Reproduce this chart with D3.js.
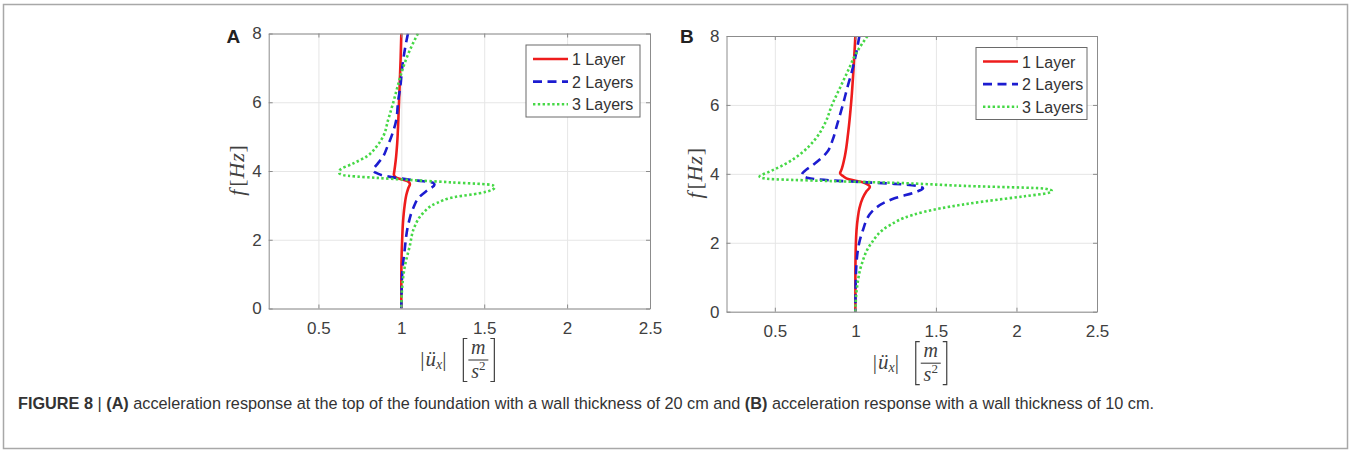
<!DOCTYPE html>
<html>
<head>
<meta charset="utf-8">
<script src="https://cdn.jsdelivr.net/npm/d3@7/dist/d3.min.js"></script>
<style>
  html, body { margin: 0; padding: 0; background: #fff; }
  svg { display: block; }
</style>
</head>
<body>
<svg id="chart" width="1351" height="453"></svg>
<script>
// tick values
const freqTicks = [0, 2, 4, 6, 8];
const accTicks = [0.5, 1, 1.5, 2, 2.5];
const seriesNames = ["1 Layer", "2 Layers", "3 Layers"];

// panel A (wall 20 cm): [f in Hz, |u_x| in m/s^2]
const a1Layer = [[0,1.0],[1,1.0],[2,1.005],[2.5,1.01],[3,1.02],[3.3,1.03],[3.5,1.042],[3.62,1.052],[3.7,1.04],
  [3.76,1.0],[3.82,0.965],[3.9,0.955],[4.0,0.958],[4.3,0.966],[4.8,0.975],[5.5,0.982],[6.5,0.99],[7.3,0.996],[8,1.0]];
const a2Layers = [[0,1.0],[1,1.005],[1.7,1.02],[2.4,1.04],[2.9,1.07],[3.25,1.11],[3.45,1.16],[3.6,1.2],[3.66,1.19],
  [3.72,1.1],[3.78,1.0],[3.86,0.9],[3.95,0.845],[4.03,0.83],[4.2,0.855],[4.42,0.89],[4.7,0.915],[5.0,0.94],
  [5.5,0.97],[6,0.98],[6.5,0.995],[7,1.005],[7.5,1.02],[8,1.04]];
const a3Layers = [[0,1.0],[0.6,1.005],[1.2,1.02],[1.8,1.05],[2.38,1.08],[2.77,1.13],[3.06,1.21],[3.25,1.33],
  [3.35,1.47],[3.45,1.545],[3.52,1.563],[3.59,1.55],[3.67,1.3],[3.74,1.05],[3.8,0.85],[3.88,0.65],[3.95,0.625],
  [4.03,0.63],[4.22,0.71],[4.42,0.79],[4.71,0.85],[5.0,0.89],[5.48,0.92],[5.97,0.95],[6.5,0.98],[7,1.01],
  [7.5,1.05],[8,1.1]];

// panel B (wall 10 cm)
const b1Layer = [[0,1.0],[1,1.0],[1.96,1.003],[2.72,1.015],[3.0,1.025],[3.29,1.045],[3.5,1.07],[3.62,1.09],
  [3.68,1.08],[3.76,1.04],[3.84,0.96],[3.93,0.925],[4.02,0.905],[4.1,0.912],[4.52,0.935],[5.18,0.955],
  [6.13,0.975],[7,0.988],[8,1.0]];
const b2Layers = [[0,1.0],[1,1.003],[1.77,1.015],[2.34,1.045],[2.91,1.104],[3.29,1.243],[3.48,1.38],[3.58,1.42],
  [3.65,1.38],[3.71,1.243],[3.76,1.045],[3.81,0.846],[3.88,0.708],[3.98,0.668],[4.1,0.69],[4.26,0.737],
  [4.64,0.826],[5.0,0.86],[5.4,0.885],[6.05,0.925],[6.5,0.95],[7,0.98],[7.5,1.005],[8,1.025]];
const b3Layers = [[0,1.0],[0.7,1.01],[1.39,1.04],[1.96,1.095],[2.5,1.21],[2.8,1.35],[3.0,1.53],[3.2,1.8],
  [3.35,2.05],[3.45,2.2],[3.5,2.22],[3.57,2.18],[3.65,1.68],[3.74,1.24],[3.79,0.85],[3.86,0.45],[3.92,0.405],
  [3.97,0.42],[4.05,0.46],[4.3,0.57],[4.6,0.665],[5.0,0.75],[5.5,0.815],[6,0.855],[6.5,0.905],[7,0.955],
  [7.5,1.005],[8,1.075]];

const styles = [
  {color: "#ee1c1c", dash: null},
  {color: "#1c1cd0", dash: "9,5.5"},
  {color: "#46d846", dash: "2.4,2.4"}
];

const svg = d3.select("#chart");
const axisGrey = "#8c8c8c";
const labelGrey = "#404040";

// outer frame of the figure
svg.append("rect")
  .attr("x", 3.5).attr("y", 4.5).attr("width", 1344).attr("height", 444)
  .attr("fill", "none").attr("stroke", "#a8a8a8").attr("stroke-width", 1.5);

function drawPanel(opt) {
  const x = d3.scaleLinear().domain([0.2, 2.5]).range([opt.left, opt.right]);
  const y = d3.scaleLinear().domain([0, 8]).range([opt.bottom, opt.top]);
  const w = opt.right - opt.left, h = opt.bottom - opt.top;
  const g = svg.append("g");

  // grid
  g.append("g").attr("transform", `translate(0,${opt.bottom})`)
    .call(d3.axisBottom(x).tickValues(accTicks).tickSize(-h).tickFormat(""))
    .call(s => s.select(".domain").remove())
    .call(s => s.selectAll("line").attr("stroke", "#e6e6e6"));
  g.append("g").attr("transform", `translate(${opt.left},0)`)
    .call(d3.axisLeft(y).tickValues(freqTicks).tickSize(-w).tickFormat(""))
    .call(s => s.select(".domain").remove())
    .call(s => s.selectAll("line").attr("stroke", "#e6e6e6"));

  // curves
  const clipId = "clip" + opt.name;
  svg.append("clipPath").attr("id", clipId).append("rect")
    .attr("x", opt.left).attr("y", opt.top).attr("width", w).attr("height", h);
  const line = d3.line().x(d => x(d[1])).y(d => y(d[0])).curve(d3.curveMonotoneY);
  opt.series.forEach((data, i) => {
    g.append("path")
      .datum(data.slice().reverse())
      .attr("clip-path", `url(#${clipId})`)
      .attr("d", line)
      .attr("fill", "none")
      .attr("stroke", styles[i].color)
      .attr("stroke-width", 2.6)
      .attr("stroke-dasharray", styles[i].dash);
  });

  // axes
  const fmt = d => String(d);
  const bottomAx = g.append("g").attr("transform", `translate(0,${opt.bottom})`)
    .call(d3.axisBottom(x).tickValues(accTicks).tickFormat(fmt).tickSizeInner(-4).tickSizeOuter(0).tickPadding(13));
  const leftAx = g.append("g").attr("transform", `translate(${opt.left},0)`)
    .call(d3.axisLeft(y).tickValues(freqTicks).tickFormat(fmt).tickSizeInner(-4).tickSizeOuter(0).tickPadding(7));
  const topAx = g.append("g").attr("transform", `translate(0,${opt.top})`)
    .call(d3.axisTop(x).tickValues(accTicks).tickFormat("").tickSizeInner(-4).tickSizeOuter(0));
  const rightAx = g.append("g").attr("transform", `translate(${opt.right},0)`)
    .call(d3.axisRight(y).tickValues(freqTicks).tickFormat("").tickSizeInner(-4).tickSizeOuter(0));
  [bottomAx, leftAx, topAx, rightAx].forEach(a => {
    a.select(".domain").attr("stroke", axisGrey);
    a.selectAll(".tick line").attr("stroke", axisGrey);
    a.selectAll(".tick text").attr("fill", labelGrey)
      .attr("font-family", "'Liberation Sans', Arial, sans-serif").attr("font-size", 17);
  });

  // panel letter
  g.append("text").attr("x", opt.letterX).attr("y", 42.5)
    .attr("font-family", "'Liberation Sans', Arial, sans-serif").attr("font-weight", "bold")
    .attr("font-size", 19).attr("fill", "#222").text(opt.name);

  // y label f[Hz]
  const yl = g.append("text")
    .attr("transform", `translate(${opt.left - 25},${(opt.top + opt.bottom) / 2 - 1}) rotate(-90)`)
    .attr("text-anchor", "middle")
    .attr("font-family", "'Liberation Serif', 'Times New Roman', serif")
    .attr("font-size", 22).attr("letter-spacing", 0.8).attr("fill", labelGrey);
  yl.append("tspan").attr("font-style", "italic").text("f");
  yl.append("tspan").attr("dx", 2).text("[");
  yl.append("tspan").attr("font-style", "italic").text("Hz");
  yl.append("tspan").text("]");

  // x label |ü_x| [m / s^2]
  const cx = (opt.left + opt.right) / 2, b = opt.bottom + 3;
  const xl = g.append("g").attr("fill", labelGrey)
    .attr("font-family", "'Liberation Serif', 'Times New Roman', serif");
  const t1 = xl.append("text").attr("x", cx - 39).attr("y", b + 54.5).attr("font-size", 21);
  t1.append("tspan").text("|");
  t1.append("tspan").attr("font-style", "italic").attr("dx", 1).text("ü");
  t1.append("tspan").attr("font-style", "italic").attr("font-size", 14).attr("dy", 3).text("x");
  t1.append("tspan").attr("dy", -3).text("|");
  const bracket = (x0, dir) => xl.append("path")
    .attr("d", `M${x0 + dir * 4},${b + 27}H${x0}V${b + 70}H${x0 + dir * 4}`)
    .attr("fill", "none").attr("stroke", labelGrey).attr("stroke-width", 1.2);
  bracket(cx + 4, 1);
  bracket(cx + 35, -1);
  xl.append("text").attr("x", cx + 19).attr("y", b + 42).attr("text-anchor", "middle")
    .attr("font-size", 20).attr("font-style", "italic").text("m");
  xl.append("line").attr("x1", cx + 9).attr("x2", cx + 29).attr("y1", b + 48.5).attr("y2", b + 48.5)
    .attr("stroke", labelGrey).attr("stroke-width", 1.1);
  const s2 = xl.append("text").attr("x", cx + 19).attr("y", b + 66).attr("text-anchor", "middle")
    .attr("font-size", 20);
  s2.append("tspan").attr("font-style", "italic").text("s");
  s2.append("tspan").attr("font-size", 13).attr("dy", -8).text("2");

  // legend
  const L = opt.legend;
  const lg = g.append("g");
  lg.append("rect").attr("x", L.x).attr("y", L.y).attr("width", L.w).attr("height", L.h)
    .attr("fill", "#fff").attr("stroke", "#6a6a6a").attr("stroke-width", 1);
  seriesNames.forEach((name, i) => {
    const ry = L.y + 14 + i * 22.6;
    lg.append("line").attr("x1", L.x + 7).attr("x2", L.x + 42).attr("y1", ry).attr("y2", ry)
      .attr("stroke", styles[i].color).attr("stroke-width", 2.6)
      .attr("stroke-dasharray", styles[i].dash);
    lg.append("text").attr("x", L.x + 46).attr("y", ry + 6)
      .attr("font-family", "'Liberation Sans', Arial, sans-serif").attr("font-size", 16)
      .attr("fill", "#333").text(name);
  });
}

drawPanel({name: "A", left: 268.7, right: 650, top: 33.5, bottom: 308.5, letterX: 226.5,
  series: [a1Layer, a2Layers, a3Layers], legend: {x: 526, y: 45, w: 114, h: 72}});
drawPanel({name: "B", left: 726.5, right: 1097, top: 36, bottom: 311.7, letterX: 680,
  series: [b1Layer, b2Layers, b3Layers], legend: {x: 976, y: 47.5, w: 111, h: 72}});

// caption
const cap = svg.append("text").attr("x", 18).attr("y", 409)
  .attr("font-family", "'Liberation Sans', Arial, sans-serif").attr("font-size", 13.5).attr("fill", "#333");
[["FIGURE 8", true], [" | ", false], ["(A)", true],
 [" acceleration response at the top of the foundation with a wall thickness of 20 cm and ", false],
 ["(B)", true], [" acceleration response with a wall thickness of 10 cm.", false]]
  .forEach(([t, bold]) => cap.append("tspan").attr("font-weight", bold ? "bold" : null).text(t));
const capLen = cap.node().getComputedTextLength();
cap.attr("font-size", 13.5 * 1137 / capLen);
</script>
</body>
</html>
